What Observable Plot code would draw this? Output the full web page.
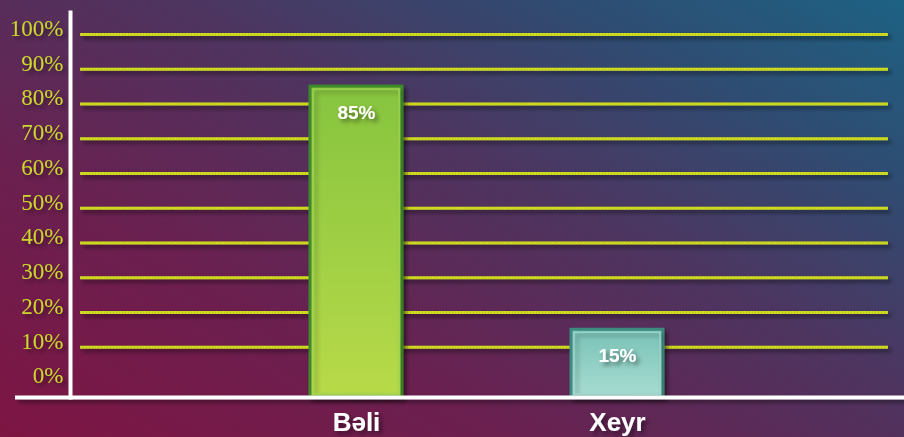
<!DOCTYPE html>
<html>
<head>
<meta charset="utf-8">
<script src="https://cdn.jsdelivr.net/npm/d3@7"></script>
<script src="https://cdn.jsdelivr.net/npm/@observablehq/plot@0.6"></script>
<style>
  html, body { margin: 0; padding: 0; background: #4e3560; }
  #chart svg { display: block; }
</style>
</head>
<body>
<div id="chart"></div>
<script>
// Data
const categories = ["Bəli", "Xeyr"];
const values = [85, 15];
const yTicks = [0, 10, 20, 30, 40, 50, 60, 70, 80, 90, 100];
const gridTicks = [10, 20, 30, 40, 50, 60, 70, 80, 90, 100];
const baseValue = -4.5; // axis baseline sits slightly below the 0% level

const data = categories.map((c, i) => ({cat: categories[i], value: values[i]}));

const plot = Plot.plot({
  width: 904,
  height: 437,
  marginTop: 34,
  marginBottom: 40,
  marginLeft: 80,
  marginRight: 16,
  style: {
    background: "linear-gradient(28deg, #7e1543 0%, #6a2050 30%, #4d3560 58%, #2f4c72 80%, #1d6283 100%)",
    overflow: "visible"
  },
  x: {type: "band", domain: categories, range: [139, 833], padding: 0.649, axis: null},
  y: {domain: [baseValue, 100], axis: null},
  color: {domain: categories, range: ["url(#gBeli)", "url(#gXeyr)"]},
  marks: [
    Plot.ruleY(gridTicks, {stroke: "#d6e220", strokeWidth: 3}),
    Plot.ruleY(gridTicks, {stroke: "#a9b51a", strokeWidth: 3, strokeDasharray: "1,2", strokeOpacity: 0.5}),
    Plot.text(yTicks, {
      y: d => d, text: d => d + "%", frameAnchor: "left", textAnchor: "end",
      dx: -17, dy: -6, fill: "#cbd82c", fontSize: 23,
      fontFamily: "Liberation Serif, DejaVu Serif, serif"
    }),
    Plot.barY(data, {
      x: "cat", y1: () => baseValue, y2: "value", fill: "cat",
      stroke: d => d.cat === "Bəli" ? "#3e8a2a" : "#3d8a7e", strokeWidth: 3
    }),
    Plot.barY(data, {
      x: "cat", y1: () => baseValue, y2: "value", fill: "none", inset: 3,
      stroke: d => d.cat === "Bəli" ? "#9fd452" : "#9fd6cc", strokeWidth: 1.5, strokeOpacity: 0.8
    }),
    Plot.text(data, {
      x: "cat", y: "value", text: d => d.value + "%", dy: 26,
      fill: "white", fontSize: 19, fontWeight: "bold",
      fontFamily: "Liberation Sans, Arial, sans-serif"
    }),
    Plot.ruleY([baseValue], {stroke: "white", strokeWidth: 4, insetLeft: -65, insetRight: -16}),
    Plot.frame({anchor: "left", stroke: "white", strokeWidth: 4, insetLeft: -10, insetTop: -22}),
    Plot.text(categories, {
      x: d => d, y: () => baseValue, dy: 25, text: d => d,
      fill: "white", fontSize: 26, fontWeight: "bold",
      fontFamily: "Liberation Sans, Arial, sans-serif"
    })
  ]
});

// gradients and shadows
const svg = d3.select(plot);
const defs = svg.insert("defs", ":first-child");
const g1 = defs.append("linearGradient").attr("id", "gBeli").attr("x1", 0).attr("y1", 0).attr("x2", 0).attr("y2", 1);
g1.append("stop").attr("offset", "0%").attr("stop-color", "#86c440");
g1.append("stop").attr("offset", "100%").attr("stop-color", "#b8da48");
const g2 = defs.append("linearGradient").attr("id", "gXeyr").attr("x1", 0).attr("y1", 0).attr("x2", 0).attr("y2", 1);
g2.append("stop").attr("offset", "0%").attr("stop-color", "#79c2b6");
g2.append("stop").attr("offset", "100%").attr("stop-color", "#a8dcd2");
const f = defs.append("filter").attr("id", "shadow").attr("filterUnits", "userSpaceOnUse")
  .attr("x", -20).attr("y", -20).attr("width", 950).attr("height", 480);
f.append("feDropShadow").attr("dx", 3).attr("dy", 3).attr("stdDeviation", 2).attr("flood-color", "#000").attr("flood-opacity", 0.45);
svg.selectAll('g[aria-label="bar"], g[aria-label="rule"], g[aria-label="frame"], g[aria-label="text"]').attr("filter", "url(#shadow)");

document.getElementById("chart").appendChild(plot);
</script>
</body>
</html>
